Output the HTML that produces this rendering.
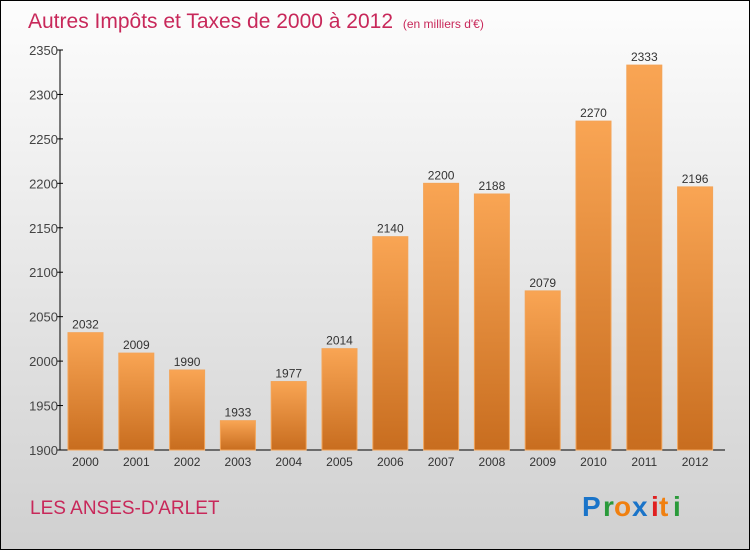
<!DOCTYPE html>
<html><head><meta charset="utf-8"><style>
body{margin:0;width:750px;height:550px;overflow:hidden;font-family:"Liberation Sans",sans-serif}
</style></head><body>
<svg width="750" height="550" xmlns="http://www.w3.org/2000/svg">
<defs>
<linearGradient id="bg" x1="0" y1="0" x2="0" y2="1"><stop offset="0" stop-color="#fdfdfd"/><stop offset="1" stop-color="#d0d0d0"/></linearGradient>
<linearGradient id="bar" x1="0" y1="0" x2="0" y2="1"><stop offset="0" stop-color="#f9a554"/><stop offset="1" stop-color="#c86d1f"/></linearGradient>
</defs>
<rect x="0.5" y="0.5" width="749" height="549" fill="url(#bg)" stroke="#000"/>
<text x="28" y="28" font-size="21" fill="#c8285a">Autres Impôts et Taxes de 2000 à 2012 <tspan font-size="12" dx="4">(en milliers d'€)</tspan></text>
<g id="axes"></g>
<g id="bars"></g>
<text x="30" y="514" font-size="19" fill="#c8285a">LES ANSES-D'ARLET</text>
<g font-size="28" font-weight="bold">
<text x="582" y="516" fill="#1a74c9">P</text><text x="603" y="516" fill="#2a9a3a">r</text><text x="614" y="516" fill="#f08010">o</text><text x="632" y="516" fill="#1a74c9">x</text><text x="651" y="516" fill="#e02020">i</text><text x="659" y="516" fill="#f08010">t</text><text x="673" y="516" fill="#2a9a3a">i</text>
</g>
</svg>
<script>
const years=["2000","2001","2002","2003","2004","2005","2006","2007","2008","2009","2010","2011","2012"];
const values=[2032,2009,1990,1933,1977,2014,2140,2200,2188,2079,2270,2333,2196];
const ticks=[1900,1950,2000,2050,2100,2150,2200,2250,2300,2350];
const NS="http://www.w3.org/2000/svg";
const y0=450,y1=50,vmin=1900,vmax=2350,xl=60,step=50.8,bw=35;
const Y=v=>y0-(v-vmin)/(vmax-vmin)*(y0-y1);
const X=i=>xl+8+i*step;
function mk(t,a,p){const e=document.createElementNS(NS,t);for(const k in a)e.setAttribute(k,a[k]);p.appendChild(e);return e;}
const ax=document.getElementById('axes'),bs=document.getElementById('bars');
const yl=mk('line',{x1:xl,y1:y1,x2:xl,y2:y0,stroke:'#000'},ax);


const xa=mk('line',{x1:xl,y1:y0,x2:725,y2:y0,stroke:'#000'},ax);


ticks.forEach(t=>{
 mk('line',{x1:xl-3,x2:xl+3,y1:Y(t),y2:Y(t),stroke:'#000'},ax);
 const tx=mk('text',{x:xl-2,y:Y(t)+5,'font-size':13,fill:'#444','text-anchor':'end'},ax);
 tx.textContent=t;
 
 
});
years.forEach((yr,i)=>{
 const v=values[i];
 const r=mk('rect',{x:X(i),y:Y(v),width:bw,height:y0-Y(v),fill:'url(#bar)',stroke:'#f3a458','stroke-width':1},bs);
 
 
 const l=mk('text',{x:X(i)+bw/2,y:Y(v)-4,'font-size':12,fill:'#333','text-anchor':'middle'},bs);
 l.textContent=v;
 
 
 const xt=mk('text',{x:X(i)+bw/2,y:466,'font-size':12,fill:'#333','text-anchor':'middle'},ax);
 xt.textContent=yr;
 
 
});
</script>
</body></html>
